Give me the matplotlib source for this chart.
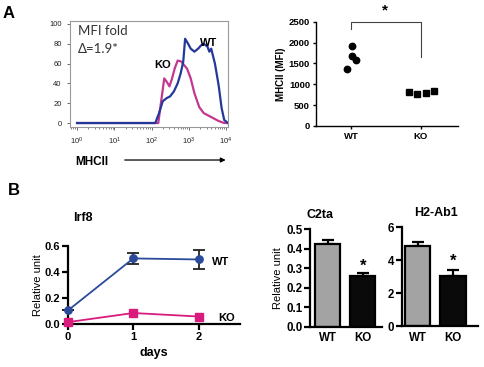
import numpy as np
import matplotlib
matplotlib.use("Agg")
import matplotlib.pyplot as plt

plt.rcParams["font.family"] = ["Liberation Sans", "DejaVu Sans"]

# ---- data ----
# panel A histogram (log10 MHCII, % of max)
wt_logx = [0.0, 2.1, 2.2, 2.3, 2.4, 2.5, 2.6, 2.7, 2.78, 2.85, 2.9, 2.98, 3.05, 3.15, 3.25, 3.32,
           3.4, 3.5, 3.55, 3.6, 3.7, 3.8, 3.88, 3.95, 4.05]
wt_count = [0, 0, 10, 22, 25, 27, 32, 40, 50, 62, 85, 80, 75, 72, 75, 78,
            80, 77, 72, 75, 60, 38, 15, 3, 0]
ko_logx = [0.0, 2.18, 2.25, 2.34, 2.4, 2.48, 2.55, 2.62, 2.7, 2.8, 2.88, 2.95, 3.05, 3.15, 3.28,
           3.4, 3.5, 3.65, 3.8, 3.95, 4.05]
ko_count = [0, 0, 20, 45, 42, 37, 45, 55, 63, 62, 58, 55, 45, 30, 16,
            10, 8, 5, 2, 0, 0]

# panel A scatter
groups = ["WT", "KO"]
wt_mfi = [1925, 1675, 1580, 1375]
wt_jitter = [0.01, 0.01, 0.07, -0.06]
ko_mfi = [823, 760, 800, 840]
ko_jitter = [-0.17, -0.05, 0.07, 0.19]

# panel B Irf8 time course
days = [0, 1, 2]
irf8_wt = [0.105, 0.505, 0.497]
irf8_wt_err = [0.0, 0.04, 0.07]
irf8_ko = [0.015, 0.085, 0.058]

# panel B bars
c2ta = [0.425, 0.262]
c2ta_err = [0.02, 0.012]
h2ab1 = [4.88, 3.04]
h2ab1_err = [0.22, 0.36]

blue = "#2b4a9a"
magenta = "#d81b7d"
fig = plt.figure(figsize=(4.84, 3.67), dpi=100)

# ---- A: histogram ----
ax1 = fig.add_axes([0.1446, 0.654, 0.3264, 0.289])
ax1.plot(10 ** np.array(ko_logx), ko_count, color="#c2378f", lw=1.6)
ax1.plot(10 ** np.array(wt_logx), wt_count, color="#24389a", lw=1.6)
ax1.set_xscale("log")
ax1.set_xlim(10 ** -0.19, 10 ** 4.05)
ax1.set_ylim(-4, 103)
ax1.set_yticks([0, 20, 40, 60, 80, 100])
ax1.set_xticks([1, 10, 100, 1000, 10000])
ax1.tick_params(labelsize=5.5, length=2.5, colors="#555555", labelcolor="#222222", width=0.6)
ax1.tick_params(which="minor", length=1.5, colors="#555555", width=0.5)
for s in ax1.spines.values():
    s.set_color("#999999")
    s.set_linewidth(0.8)
ax1.text(0.05, 0.87, "MFI fold", transform=ax1.transAxes, fontsize=9.5, color="#333333", family="Lato")
ax1.text(0.05, 0.70, "Δ=1.9*", transform=ax1.transAxes, fontsize=9.5, color="#333333", family="Lato")
ax1.text(0.535, 0.555, "KO", transform=ax1.transAxes, fontsize=8, fontweight="bold")
ax1.text(0.82, 0.765, "WT", transform=ax1.transAxes, fontsize=8, fontweight="bold")
fig.text(0.155, 0.558, "MHCII", fontsize=8.5, fontweight="bold", va="center")
fig.add_artist(matplotlib.patches.FancyArrowPatch(
    (0.252, 0.564), (0.472, 0.564), transform=fig.transFigure,
    arrowstyle="-|>", mutation_scale=7, lw=0.9, color="black"))

fig.text(0.006, 0.962, "A", fontsize=12, fontweight="bold", va="center")

# ---- A: scatter ----
ax2 = fig.add_axes([0.652, 0.6567, 0.294, 0.284])
ax2.plot(0 + np.array(wt_jitter), wt_mfi, "o", color="black", ms=4.6, ls="none")
ax2.plot(1 + np.array(ko_jitter), ko_mfi, "s", color="black", ms=4.3, ls="none")
ax2.set_xlim(-0.51, 1.53)
ax2.set_ylim(0, 2500)
ax2.set_yticks([0, 500, 1000, 1500, 2000, 2500])
ax2.set_xticks([0, 1])
ax2.set_xticklabels(groups)
ax2.set_ylabel("MHCII (MFI)", fontsize=7, fontweight="bold", labelpad=2)
for s in ["top", "right"]:
    ax2.spines[s].set_visible(False)
for s in ["left", "bottom"]:
    ax2.spines[s].set_linewidth(1.0)
ax2.tick_params(labelsize=6.8, length=2.5, width=1.0, pad=1.5)
for lab in ax2.get_xticklabels() + ax2.get_yticklabels():
    lab.set_fontweight("bold")
ax2.plot([0, 0, 1, 1], [2320, 2500, 2500, 1660], color="#444444", lw=0.8, clip_on=False)
ax2.text(0.48, 2770, "*", fontsize=11, fontweight="bold", ha="center", va="center")

# ---- B: Irf8 ----
ax3 = fig.add_axes([0.1405, 0.117, 0.355, 0.2125])
ax3.errorbar(days, irf8_wt, yerr=irf8_wt_err, color=blue, marker="o", ms=5.3, lw=1.3,
             capsize=4, ecolor="#222222", elinewidth=1.3, capthick=1.3, clip_on=False, zorder=3)
ax3.plot(days, irf8_ko, color=magenta, marker="s", ms=5.3, lw=1.3, clip_on=False, zorder=3)
ax3.set_xlim(0, 2.63)
ax3.set_ylim(0, 0.6)
ax3.set_xticks(days)
ax3.set_yticks([0.0, 0.2, 0.4, 0.6])
ax3.yaxis.set_major_formatter(matplotlib.ticker.FormatStrFormatter("%.1f"))
for s in ["top", "right"]:
    ax3.spines[s].set_visible(False)
for s in ["left", "bottom"]:
    ax3.spines[s].set_linewidth(1.6)
ax3.tick_params(labelsize=8, length=4, width=1.6, pad=1.5)
for lab in ax3.get_xticklabels() + ax3.get_yticklabels():
    lab.set_fontweight("bold")
ax3.set_xlabel("days", fontsize=9, fontweight="bold", labelpad=4)
ax3.set_ylabel("Relative unit", fontsize=8, labelpad=1)
ax3.set_title("Irf8", fontsize=9, fontweight="bold", loc="left", x=0.03, pad=18)
ax3.text(2.2, 0.48, "WT", fontsize=8, fontweight="bold", va="center")
ax3.text(2.3, 0.05, "KO", fontsize=8, fontweight="bold", va="center")
fig.text(0.016, 0.48, "B", fontsize=12, fontweight="bold", va="center")

# ---- B: bars ----
def bar_panel(rect, vals, errs, ylim, yticks, fmt, title, star_y, title_x):
    ax = fig.add_axes(rect)
    ax.bar([0, 1], vals, width=0.72, color=["#a3a3a3", "#0a0a0a"], edgecolor="black", lw=1.6, zorder=2)
    ax.errorbar([0, 1], vals, yerr=[[0, 0], errs], fmt="none", ecolor="black",
                elinewidth=1.6, capsize=4.5, capthick=1.6, zorder=1)
    ax.set_ylim(*ylim)
    ax.set_yticks(yticks)
    ax.yaxis.set_major_formatter(matplotlib.ticker.FormatStrFormatter(fmt))
    ax.set_xticks([0, 1])
    ax.set_xticklabels(groups)
    for s in ["top", "right"]:
        ax.spines[s].set_visible(False)
    for s in ["left", "bottom"]:
        ax.spines[s].set_linewidth(1.6)
    ax.tick_params(labelsize=8.3, length=4, width=1.6, pad=1.5)
    ax.tick_params(axis="x", length=0, pad=4)
    for lab in ax.get_xticklabels() + ax.get_yticklabels():
        lab.set_fontweight("bold")
    ax.text(1, star_y, "*", fontsize=12, fontweight="bold", ha="center", va="center")
    ax.set_title(title, fontsize=9, fontweight="bold", x=title_x, pad=8)
    return ax

ax4 = bar_panel([0.6405, 0.1098, 0.148, 0.2654], c2ta, c2ta_err, (0, 0.5),
                [0.0, 0.1, 0.2, 0.3, 0.4, 0.5], "%.1f", "C2ta", 0.31, 0.14)
ax4.set_xlim(-0.51, 1.54)
ax4.set_ylabel("Relative unit", fontsize=8, labelpad=2)
ax5 = bar_panel([0.83, 0.1117, 0.158, 0.269], h2ab1, h2ab1_err, (0, 6),
                [0, 2, 4, 6], "%d", "H2-Ab1", 3.95, 0.45)
ax5.set_xlim(-0.445, 1.71)

fig.savefig("out.png", dpi=100)
